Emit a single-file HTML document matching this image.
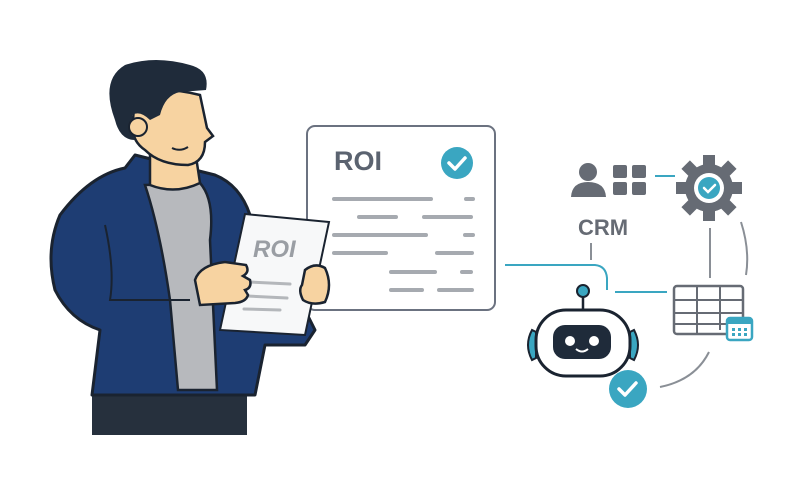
<!DOCTYPE html>
<html><head><meta charset="utf-8"><style>html,body{margin:0;padding:0;background:#fff}svg{display:block}</style></head>
<body>
<svg width="800" height="500" viewBox="0 0 800 500" xmlns="http://www.w3.org/2000/svg" font-family="Liberation Sans, sans-serif">
<rect width="800" height="500" fill="#fff"/>
<!-- document -->
<rect x="307" y="126" width="188" height="184" rx="8" fill="#fff" stroke="#6b7280" stroke-width="2"/>
<text x="334" y="170" font-size="27" font-weight="bold" fill="#5b6370">ROI</text>
<circle cx="457" cy="163" r="16" fill="#3aa6c1"/>
<path d="M449 163 l6 6 l10 -11" stroke="#fff" stroke-width="3.5" fill="none" stroke-linecap="round" stroke-linejoin="round"/>
<g stroke="#a6aab0" stroke-width="4" stroke-linecap="round">
<line x1="334" y1="199" x2="431" y2="199"/><line x1="466" y1="199" x2="473" y2="199"/>
<line x1="359" y1="217" x2="396" y2="217"/><line x1="424" y1="217" x2="471" y2="217"/>
<line x1="334" y1="235" x2="426" y2="235"/><line x1="465" y1="235" x2="473" y2="235"/>
<line x1="334" y1="253" x2="386" y2="253"/><line x1="437" y1="253" x2="472" y2="253"/>
<line x1="391" y1="272" x2="435" y2="272"/><line x1="462" y1="272" x2="471" y2="272"/>
<line x1="391" y1="290" x2="422" y2="290"/><line x1="439" y1="290" x2="472" y2="290"/>
</g>
<!-- person -->
<rect x="92" y="385" width="155" height="50" fill="#26303d"/>
<path d="M60 215 Q90 175 125 168 L135 155 L215 175 Q240 185 250 215 L260 280 L300 300 L315 330 L305 345 L265 345 L255 395 L92 395 L100 330 Q70 320 55 290 Q45 250 60 215 Z" fill="#1e3d73" stroke="#1a2330" stroke-width="3" stroke-linejoin="round"/>
<path d="M145 185 L200 183 Q215 200 210 240 L217 390 L178 390 L170 300 Q160 230 145 185 Z" fill="#b7b9bd" stroke="#1a2330" stroke-width="2.5"/>
<path d="M150 155 L150 185 Q175 195 200 183 L195 150 Z" fill="#f7d3a1" stroke="#1a2330" stroke-width="2.5"/>
<path d="M135 95 Q160 85 200 95 L207 128 L213 136 L205 142 Q205 162 188 165 Q160 165 145 150 Q130 140 133 120 Z" fill="#f7d3a1" stroke="#1a2330" stroke-width="2.5"/>
<path d="M115 120 Q100 80 125 65 Q155 55 190 65 Q210 70 206 90 L180 92 Q165 95 160 115 L150 120 Q140 110 132 115 L135 140 Q120 140 115 120 Z" fill="#1f2b3a"/>
<circle cx="138" cy="127" r="9" fill="#f7d3a1" stroke="#1a2330" stroke-width="2"/>
<path d="M172 148 Q180 152 188 147" stroke="#1a2330" stroke-width="2" fill="none"/>
<path d="M105 225 Q115 270 110 300 L190 300" stroke="#1a2330" stroke-width="2" fill="none"/>
<!-- paper -->
<path d="M245 214 L329 222 L305 335 L220 330 Z" fill="#f7f8f9" stroke="#1a2330" stroke-width="2"/>
<text x="253" y="257" font-size="24" font-weight="bold" font-style="italic" fill="#9a9ea4">ROI</text>
<g stroke="#b4b7bb" stroke-width="3" stroke-linecap="round"><line x1="250" y1="282" x2="290" y2="284"/><line x1="247" y1="296" x2="287" y2="298"/><line x1="244" y1="309" x2="280" y2="310"/></g>
<path d="M195 280 Q200 265 225 262 L246 265 Q250 272 243 276 L250 280 Q252 288 245 290 L248 295 Q246 302 235 303 L200 305 Z" fill="#f7d3a1" stroke="#1a2330" stroke-width="2.5"/>
<path d="M305 270 Q315 262 325 268 Q333 285 325 302 Q312 306 303 300 Q298 290 302 285 Z" fill="#f7d3a1" stroke="#1a2330" stroke-width="2.5"/>
<!-- connectors -->
<path d="M505 265 L595 265 Q606 266 607 278 L607 290" stroke="#3aa6c1" stroke-width="2" fill="none"/>
<line x1="615" y1="292" x2="667" y2="292" stroke="#3aa6c1" stroke-width="2"/>
<line x1="591" y1="243" x2="591" y2="260" stroke="#8a8f96" stroke-width="2"/>
<line x1="655" y1="176" x2="675" y2="176" stroke="#3aa6c1" stroke-width="2"/>
<line x1="710" y1="228" x2="710" y2="278" stroke="#8a8f96" stroke-width="2"/>
<path d="M741 222 Q750 250 746 275" stroke="#8a8f96" stroke-width="2" fill="none"/>
<path d="M709 352 Q695 380 660 387" stroke="#8a8f96" stroke-width="2" fill="none"/>
<!-- CRM icon -->
<circle cx="588" cy="172" r="9" fill="#666b74"/>
<path d="M571 197 Q572 182 588 182 Q605 182 606 197 Z" fill="#666b74"/>
<g fill="#666b74"><rect x="613" y="165" width="14" height="13" rx="2"/><rect x="632" y="165" width="14" height="13" rx="2"/><rect x="613" y="182" width="14" height="13" rx="2"/><rect x="632" y="182" width="14" height="13" rx="2"/></g>
<text x="603" y="235" font-size="22" font-weight="bold" fill="#666b74" text-anchor="middle">CRM</text>
<!-- gear -->
<g transform="translate(709,188)" fill="#666b74">
<circle r="24"/>
<g><rect x="-6" y="-33" width="12" height="14"/><rect x="-6" y="19" width="12" height="14"/><rect x="-33" y="-6" width="14" height="12"/><rect x="19" y="-6" width="14" height="12"/>
<g transform="rotate(45)"><rect x="-6" y="-33" width="12" height="14"/><rect x="-6" y="19" width="12" height="14"/><rect x="-33" y="-6" width="14" height="12"/><rect x="19" y="-6" width="14" height="12"/></g></g>
<circle r="15" fill="#fff"/><circle r="11" fill="#3aa6c1"/>
<path d="M-5 0 l4 4 l7 -7" stroke="#fff" stroke-width="2.5" fill="none" stroke-linecap="round"/>
</g>
<!-- table -->
<g stroke="#666b74" stroke-width="2.5" fill="#fff"><rect x="674" y="286" width="69" height="48" rx="3"/></g>
<g stroke="#666b74" stroke-width="2"><line x1="674" y1="300" x2="743" y2="300"/><line x1="674" y1="313" x2="743" y2="313"/><line x1="674" y1="324" x2="740" y2="324"/><line x1="697" y1="286" x2="697" y2="334"/><line x1="720" y1="286" x2="720" y2="330"/></g>
<rect x="727" y="318" width="25" height="22" rx="3" fill="#fff" stroke="#3aa6c1" stroke-width="2.5"/>
<rect x="727" y="318" width="25" height="6" fill="#3aa6c1"/>
<g fill="#3aa6c1"><rect x="732" y="328" width="3" height="3"/><rect x="738" y="328" width="3" height="3"/><rect x="744" y="328" width="3" height="3"/><rect x="732" y="333" width="3" height="3"/><rect x="738" y="333" width="3" height="3"/><rect x="744" y="333" width="3" height="3"/></g>
<!-- robot -->
<line x1="583" y1="295" x2="583" y2="310" stroke="#1a2330" stroke-width="2.5"/>
<circle cx="583" cy="291" r="6" fill="#3aa6c1" stroke="#1a2330" stroke-width="2"/>
<path d="M532 330 Q524 345 532 360 L536 358 L536 332 Z" fill="#3aa6c1" stroke="#1a2330" stroke-width="2"/>
<path d="M634 330 Q642 345 634 360 L630 358 L630 332 Z" fill="#3aa6c1" stroke="#1a2330" stroke-width="2"/>
<rect x="536" y="310" width="94" height="66" rx="30" fill="#fff" stroke="#1a2330" stroke-width="3"/>
<rect x="553" y="325" width="58" height="34" rx="12" fill="#1f2b3a"/>
<circle cx="570" cy="341" r="5" fill="#fff"/><circle cx="594" cy="341" r="5" fill="#fff"/>
<path d="M576 349 Q582 354 588 349" stroke="#fff" stroke-width="2" fill="none"/>
<circle cx="628" cy="389" r="19" fill="#3aa6c1"/>
<path d="M619 389 l6 6 l11 -12" stroke="#fff" stroke-width="3.5" fill="none" stroke-linecap="round" stroke-linejoin="round"/>
</svg>
</body></html>
